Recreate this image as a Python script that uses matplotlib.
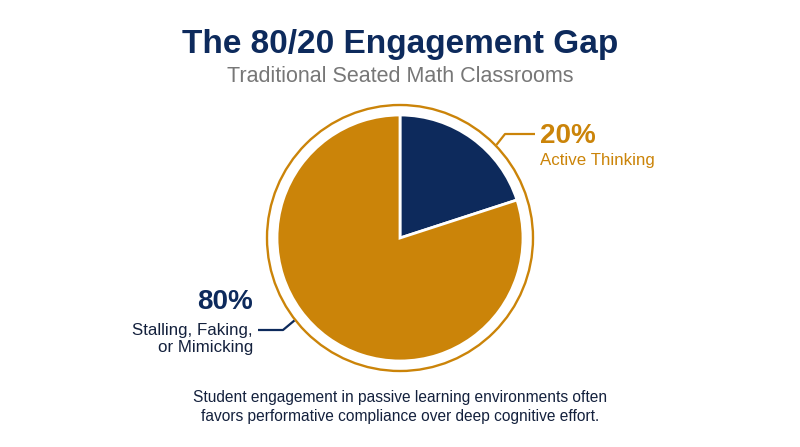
import matplotlib
matplotlib.use("Agg")
import matplotlib.pyplot as plt
from matplotlib.patches import Circle
import numpy as np

labels = ["Active Thinking", "Stalling, Faking,\nor Mimicking"]
values = [20, 80]
pct_labels = ["20%", "80%"]
colors = ["#0D2A5C", "#CB8409"]

title = "The 80/20 Engagement Gap"
subtitle = "Traditional Seated Math Classrooms"
footer = ("Student engagement in passive learning environments often\n"
          "favors performative compliance over deep cognitive effort.")

navy = "#0D2A5C"
gold = "#CB8409"
font = ["Liberation Sans", "DejaVu Sans"]
plt.rcParams["font.family"] = font

W, H = 800, 447
fig = plt.figure(figsize=(8, 4.47), dpi=100)
ax = fig.add_axes([0, 0, 1, 1])

cx, cy, r = 400, H - 238, 123
ax.pie(values, colors=colors, startangle=90, counterclock=False,
       center=(cx, cy), radius=r, frame=True,
       wedgeprops=dict(edgecolor="white", linewidth=2))
ax.set_xlim(0, W)
ax.set_ylim(0, H)
ax.set_aspect("equal")
ax.axis("off")
ax.add_patch(Circle((cx, cy), 133, fill=False, edgecolor=gold, linewidth=1.7))

def ring_pt(deg, rad=134):
    a = np.deg2rad(deg)
    return cx + rad * np.cos(a), cy + rad * np.sin(a)

# 20% leader
x0, y0 = ring_pt(44)
ax.plot([x0, 505, 535], [y0, H - 134, H - 134], color=gold, lw=1.6,
        solid_capstyle="butt")
ax.text(540, H - 136, pct_labels[0], color=gold, fontsize=20, fontweight="bold",
        ha="left", va="center")
ax.text(540, H - 160, labels[0], color=gold, fontsize=12.2, ha="left", va="center")

# 80% leader
x1, y1 = ring_pt(218)
ax.plot([x1, 283, 258], [y1, H - 330, H - 330], color=navy, lw=1.6,
        solid_capstyle="butt")
ax.text(253, H - 302, pct_labels[1], color=navy, fontsize=20, fontweight="bold",
        ha="right", va="center")
ax.text(253, H - 339, labels[1], color="#14213D", fontsize=12.2, ha="right",
        va="center", linespacing=1.2)

ax.text(400, H - 45, title, color=navy, fontsize=24, fontweight="bold",
        ha="center", va="center")
ax.text(400, H - 76, subtitle, color="#777777", fontsize=15.5,
        ha="center", va="center")
ax.text(400, H - 407, footer, color="#14213D", fontsize=11.2,
        ha="center", va="center", linespacing=1.3)

fig.savefig("out.png", dpi=100)
